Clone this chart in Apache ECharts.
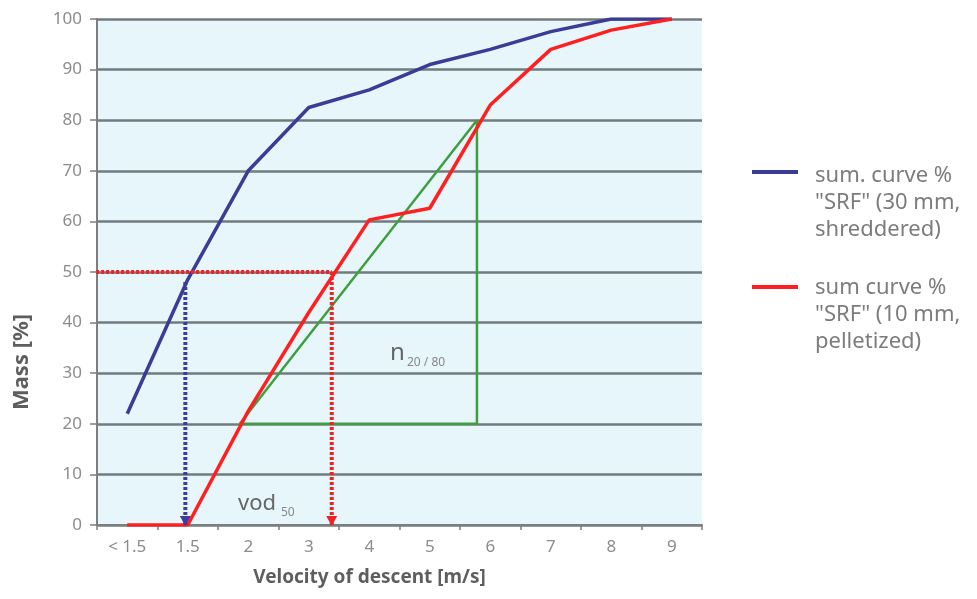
<!DOCTYPE html>
<html>
<head>
<meta charset="utf-8">
<script src="https://cdn.jsdelivr.net/npm/echarts@6/dist/echarts.min.js"></script>
<style>
html,body{margin:0;padding:0;background:#ffffff;}
#chart{width:977px;height:599px;}
</style>
</head>
<body>
<div id="chart"></div>
<script>
// Categories of the x axis (velocity of descent, m/s)
const categories = ['< 1.5', '1.5', '2', '3', '4', '5', '6', '7', '8', '9'];
// Cumulative mass [%] per category
const shredded30 = [22, 48.5, 70, 82.5, 86, 91, 94, 97.5, 100, 100];
const pelletized10 = [0, 0, 22.5, 42, 60.3, 62.6, 83, 94, 97.8, 100];
// Annotation geometry in category-index units (x) and mass % (y)
const n2080Triangle = [[1.86, 20], [5.78, 80], [5.78, 20], [1.86, 20]];
const vod50RedHorizontal = [[-0.68, 50], [3.38, 50]];
const vod50RedVertical = [[3.38, 50], [3.38, 0]];
const vod50BlueVertical = [[0.96, 48], [0.96, 0]];
const yTicks = { min: 0, max: 100, interval: 10 };

const seriesNames = [
  'sum. curve % "SRF" (30 mm, shreddered)',
  'sum curve % "SRF" (10 mm, pelletized)'
];

const toPairs = arr => arr.map((v, i) => [i, v]);
const FONT = '"Noto Sans", "Open Sans", sans-serif';

const chart = echarts.init(document.getElementById('chart'), null, { renderer: 'canvas' });

function arrowSymbol(len) {
  return function (value, params) {
    return params.dataIndex === len - 1 ? 'triangle' : 'none';
  };
}

const option = {
  animation: false,
  backgroundColor: '#ffffff',
  textStyle: { fontFamily: FONT },
  grid: {
    left: 97, right: 275, top: 19, bottom: 74,
    show: true, backgroundColor: '#e7f6fb', borderWidth: 0
  },
  xAxis: [
    {
      type: 'category',
      data: categories,
      boundaryGap: true,
      name: 'Velocity of descent [m/s]',
      nameLocation: 'middle',
      nameGap: 43,
      nameTextStyle: { color: '#5e5e5e', fontSize: 19, fontWeight: 'bold', fontFamily: FONT, padding: [0, 60, 0, 0] },
      axisLine: { show: true, onZero: false, lineStyle: { color: '#7a7f80', width: 2 } },
      axisTick: { show: true, length: 5, lineStyle: { color: '#7a7f80', width: 1.5 } },
      axisLabel: { color: '#8c8c8c', fontSize: 17, margin: 14, fontFamily: FONT },
      splitLine: { show: false }
    },
    {
      type: 'value',
      min: -0.5, max: 9.5,
      show: false,
      axisLine: { show: false, onZero: false },
      splitLine: { show: false }
    }
  ],
  yAxis: {
    type: 'value',
    min: yTicks.min, max: yTicks.max, interval: yTicks.interval,
    name: 'Mass [%]',
    nameLocation: 'middle',
    nameGap: 64,
    nameTextStyle: { color: '#5e5e5e', fontSize: 22, fontWeight: 'bold', fontFamily: FONT, padding: [0, 180, 0, 0] },
    axisLine: { show: true, onZero: false, lineStyle: { color: '#7a7f80', width: 2 } },
    axisTick: { show: true, length: 7, lineStyle: { color: '#7a7f80', width: 1.5 } },
    axisLabel: { color: '#8c8c8c', fontSize: 17, margin: 15, fontFamily: FONT },
    splitLine: { show: true, lineStyle: { color: '#727b7c', width: 2.5 } }
  },
  series: [
    {
      name: 'n20/80',
      type: 'line', xAxisIndex: 1,
      data: n2080Triangle,
      symbol: 'none',
      lineStyle: { color: '#3e9f3e', width: 2.5 },
      z: 2
    },
    {
      name: seriesNames[0],
      type: 'line', xAxisIndex: 1,
      data: toPairs(shredded30),
      symbol: 'none',
      lineStyle: { color: '#3b3c95', width: 3.5 },
      z: 3
    },
    {
      name: seriesNames[1],
      type: 'line', xAxisIndex: 1,
      data: toPairs(pelletized10),
      symbol: 'none',
      lineStyle: { color: '#ff1f1f', width: 3.5 },
      z: 4
    },
    {
      name: 'vod50 blue',
      type: 'line', xAxisIndex: 1,
      data: vod50BlueVertical,
      clip: false,
      symbol: arrowSymbol(vod50BlueVertical.length),
      symbolSize: [11, 10],
      symbolRotate: 180,
      symbolOffset: [0, -4],
      itemStyle: { color: '#3d3aa0' },
      lineStyle: { color: '#3d3aa0', width: 4, type: [3, 2] },
      z: 5
    },
    {
      name: 'vod50 red h',
      type: 'line', xAxisIndex: 1,
      data: vod50RedHorizontal,
      clip: false,
      symbol: 'none',
      lineStyle: { color: '#ee2424', width: 4, type: [3, 2] },
      z: 6
    },
    {
      name: 'vod50 red v',
      type: 'line', xAxisIndex: 1,
      data: vod50RedVertical,
      clip: false,
      symbol: arrowSymbol(vod50RedVertical.length),
      symbolSize: [11, 10],
      symbolRotate: 180,
      symbolOffset: [0, -4],
      itemStyle: { color: '#ee2424' },
      lineStyle: { color: '#ee2424', width: 4, type: [3, 2] },
      z: 6
    }
  ],
  graphic: [
    // legend
    { type: 'rect', shape: { x: 752, y: 170, width: 46, height: 4 }, style: { fill: '#3b3c95' } },
    { type: 'text', x: 815, y: 162, style: { text: 'sum. curve %\n"SRF" (30 mm,\nshreddered)', fill: '#7c7c7c', font: '22px ' + FONT, lineHeight: 27, verticalAlign: 'top' } },
    { type: 'rect', shape: { x: 752, y: 285, width: 46, height: 4 }, style: { fill: '#ff1f1f' } },
    { type: 'text', x: 815, y: 274, style: { text: 'sum curve %\n"SRF" (10 mm,\npelletized)', fill: '#7c7c7c', font: '22px ' + FONT, lineHeight: 27, verticalAlign: 'top' } },
    // annotations
    { type: 'text', x: 238, y: 515, style: { text: 'vod', fill: '#666666', font: '22px ' + FONT, verticalAlign: 'bottom' } },
    { type: 'text', x: 281, y: 519, style: { text: '50', fill: '#888888', font: '12px ' + FONT, verticalAlign: 'bottom' } },
    { type: 'text', x: 390, y: 365, style: { text: 'n', fill: '#666666', font: '24px ' + FONT, verticalAlign: 'bottom' } },
    { type: 'text', x: 407, y: 369, style: { text: '20 / 80', fill: '#888888', font: '12px ' + FONT, verticalAlign: 'bottom' } }
  ]
};

chart.setOption(option);
</script>
</body>
</html>
